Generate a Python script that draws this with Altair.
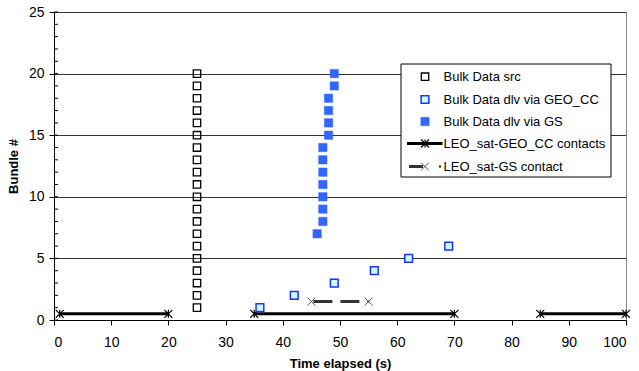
import altair as alt
import pandas as pd

# ---------------- data ----------------
src_t = [25] * 20
src_b = list(range(1, 21))

geo_t = [36, 42, 49, 56, 62, 69]
geo_b = [1, 2, 3, 4, 5, 6]

gs_t = [46, 47, 47, 47, 47, 47, 47, 47, 48, 48, 48, 48, 49, 49]
gs_b = [7, 8, 9, 10, 11, 12, 13, 14, 15, 16, 17, 18, 19, 20]

geo_contact_start = [1, 35, 85]
geo_contact_end = [20, 70, 100]
geo_contact_level = 0.5

gs_contact_start = [45]
gs_contact_end = [55]
gs_contact_level = 1.5

x_ticks = list(range(0, 101, 10))
y_ticks = list(range(0, 26, 5))
y_minor = list(range(0, 26))

legend_labels = [
    "Bulk Data src",
    "Bulk Data dlv via GEO_CC",
    "Bulk Data dlv via GS",
    "LEO_sat-GEO_CC contacts",
    "LEO_sat-GS contact",
]

# ---------------- tables ----------------
src_df = pd.DataFrame({"t": src_t, "b": src_b})
geo_df = pd.DataFrame({"t": geo_t, "b": geo_b})
gs_df = pd.DataFrame({"t": gs_t, "b": gs_b})

geo_rows = []
for i, (s, e) in enumerate(zip(geo_contact_start, geo_contact_end)):
    geo_rows.append({"seg": i, "t": s, "b": geo_contact_level})
    geo_rows.append({"seg": i, "t": e, "b": geo_contact_level})
geoc_df = pd.DataFrame(geo_rows)

gs_rows = []
for i, (s, e) in enumerate(zip(gs_contact_start, gs_contact_end)):
    gs_rows.append({"seg": i, "t": s, "b": gs_contact_level})
    gs_rows.append({"seg": i, "t": e, "b": gs_contact_level})
gsc_df = pd.DataFrame(gs_rows)

minor_df = pd.DataFrame({"b": y_minor})

FONT = "Liberation Sans"
ASTERISK = "M-1,-1L1,1M-1,1L1,-1M0,-1L0,1"
XMARK = "M-1,-1L1,1M-1,1L1,-1"

xscale = alt.Scale(domain=[0, 100], nice=False, zero=False)
yscale = alt.Scale(domain=[0, 25], nice=False, zero=True)

xaxis = alt.Axis(values=x_ticks, grid=False, tickSize=5, labelPadding=10,
                 labelFontSize=14, title="Time elapsed (s)", titleFontSize=13,
                 titleFontWeight="bold", titlePadding=8.5)
yaxis = alt.Axis(values=y_ticks, grid=True, gridColor="#333", gridWidth=1,
                 tickSize=5, labelPadding=5, labelFontSize=14,
                 title="Bundle #", titleFontSize=13, titleFontWeight="bold",
                 titlePadding=8)


def X():
    return alt.X("t:Q", scale=xscale, axis=xaxis)


def Y():
    return alt.Y("b:Q", scale=yscale, axis=yaxis)


# minor ticks inside the y axis
minor = alt.Chart(minor_df).mark_rule(color="black", strokeWidth=1).encode(
    x=alt.value(0), x2=alt.value(4), y=Y()
)

src_pts = alt.Chart(src_df).mark_point(
    shape="square", size=55, filled=False, stroke="black", strokeWidth=1.3, opacity=1
).encode(x=X(), y=Y())

geo_pts = alt.Chart(geo_df).mark_point(
    shape="square", size=60, filled=True, fill="#ccffff", stroke="#1a33ff",
    strokeWidth=1.5, opacity=1, fillOpacity=1
).encode(x=X(), y=Y())

gs_pts = alt.Chart(gs_df).mark_point(
    shape="square", size=70, filled=True, fill="#3366ff", stroke="#3366ff",
    strokeWidth=0.5, opacity=1
).encode(x=X(), y=Y())

geo_line = alt.Chart(geoc_df).mark_line(color="black", strokeWidth=3).encode(
    x=X(), y=Y(), detail="seg:N"
)
geo_marks = alt.Chart(geoc_df).mark_point(
    shape=ASTERISK, size=64, filled=False, stroke="black", strokeWidth=1.2, opacity=1
).encode(x=X(), y=Y())

gs_line = alt.Chart(gsc_df).mark_line(
    color="#333", strokeWidth=3, strokeDash=[19, 8], strokeDashOffset=-2
).encode(x=X(), y=Y(), detail="seg:N")
gs_marks = alt.Chart(gsc_df).mark_point(
    shape=XMARK, size=60, filled=False, stroke="#555", strokeWidth=1, opacity=1
).encode(x=X(), y=Y())

# ---------------- legend (drawn) ----------------
one = pd.DataFrame({"k": [0]})
LX0, LX1, LY0, LY1 = 347, 557, 52, 165
rows_y = [64.7, 87.5, 109.5, 131.5, 154.5]
sym_x = 371
txt_x = 389.5

legend_layers = [
    alt.Chart(one).mark_rect(fill="white", stroke="black", strokeWidth=1).encode(
        x=alt.value(LX0), x2=alt.value(LX1), y=alt.value(LY0), y2=alt.value(LY1)
    )
]
legend_layers.append(alt.Chart(one).mark_point(
    shape="square", size=55, filled=False, stroke="black", strokeWidth=1.3, opacity=1
).encode(x=alt.value(sym_x), y=alt.value(rows_y[0])))
legend_layers.append(alt.Chart(one).mark_point(
    shape="square", size=60, filled=True, fill="#ccffff", stroke="#1a33ff",
    strokeWidth=1.5, opacity=1
).encode(x=alt.value(sym_x), y=alt.value(rows_y[1])))
legend_layers.append(alt.Chart(one).mark_point(
    shape="square", size=70, filled=True, fill="#3366ff", stroke="#3366ff",
    strokeWidth=0.5, opacity=1
).encode(x=alt.value(sym_x), y=alt.value(rows_y[2])))
legend_layers.append(alt.Chart(one).mark_rule(color="black", strokeWidth=3).encode(
    x=alt.value(353), x2=alt.value(388.5), y=alt.value(rows_y[3])))
legend_layers.append(alt.Chart(one).mark_point(
    shape=ASTERISK, size=64, filled=False, stroke="black", strokeWidth=1.2, opacity=1
).encode(x=alt.value(sym_x), y=alt.value(rows_y[3])))
legend_layers.append(alt.Chart(one).mark_rule(color="#333", strokeWidth=3).encode(
    x=alt.value(355), x2=alt.value(369), y=alt.value(rows_y[4])))
legend_layers.append(alt.Chart(one).mark_point(
    shape=XMARK, size=60, filled=False, stroke="#555", strokeWidth=1, opacity=1
).encode(x=alt.value(sym_x), y=alt.value(rows_y[4])))
legend_layers.append(alt.Chart(one).mark_square(
    size=5, color="#333", opacity=1
).encode(x=alt.value(386), y=alt.value(rows_y[4])))
for lab, yy in zip(legend_labels, rows_y):
    legend_layers.append(
        alt.Chart(pd.DataFrame({"label": [lab]})).mark_text(
            align="left", baseline="middle", fontSize=13, font=FONT, color="black"
        ).encode(x=alt.value(txt_x), y=alt.value(yy), text="label:N")
    )

chart = alt.layer(
    minor, src_pts, geo_line, geo_marks, gs_line, gs_marks, geo_pts, gs_pts,
    *legend_layers
).properties(
    width=572, height=308,
    autosize=alt.AutoSizeParams(type="none"),
    padding={"left": 54, "top": 12, "right": 13, "bottom": 51},
).configure(
    font=FONT
).configure_view(
    stroke="#888", strokeWidth=1
).configure_axis(
    domainColor="black", tickColor="black", labelColor="black", titleColor="black",
    labelFont=FONT, titleFont=FONT
)

chart.save("out.html", embed_options={"renderer": "svg", "actions": False})
